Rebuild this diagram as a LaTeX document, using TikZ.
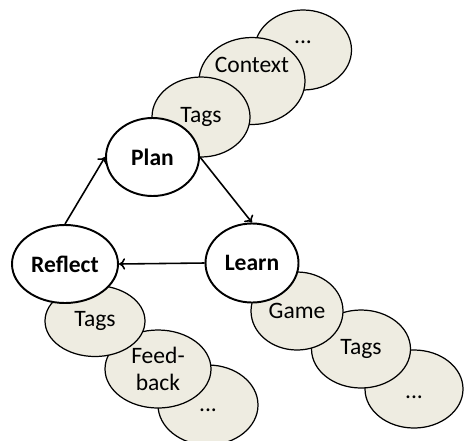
\documentclass[tikz,border=0pt]{standalone}
\usepackage{fontspec}
\setmainfont{Carlito}
\usetikzlibrary{shapes.geometric, arrows.meta}
\definecolor{itemfill}{HTML}{EEECE1}
\begin{document}
\begin{tikzpicture}[
    stage/.style={draw, ellipse, fill=white, line width=1.1pt, inner sep=0pt, font=\fontsize{13.4}{15}\selectfont\bfseries},
    item/.style={draw, ellipse, fill=itemfill, line width=0.7pt, inner sep=0pt, font=\fontsize{13.4}{15.5}\selectfont, align=center},
    link/.style={-{To[length=3.5pt, width=6.5pt]}, line width=0.9pt}
  ]
  \useasboundingbox (0,0) rectangle (9.28,-8.8);

  % Plan items
  \node[item, minimum width=1.94cm, minimum height=1.6cm, label={[yshift=0.16cm, font=\fontsize{13.4}{15}\selectfont]center:...}] (pdots) at (6.06,-1.0) {};
  \node[item, minimum width=2.12cm, minimum height=1.74cm, label={[yshift=0.32cm, font=\fontsize{13.4}{15}\selectfont]center:Context}] (pctx) at (5.04,-1.62) {};
  \node[item, minimum width=1.96cm, minimum height=1.6cm] (ptags) at (4.02,-2.34) {Tags};

  % Learn items
  \node[item, minimum width=1.96cm, minimum height=1.56cm, label={[yshift=-0.16cm, font=\fontsize{13.4}{15}\selectfont]center:...}] (ldots) at (8.28,-7.78) {};
  \node[item, minimum width=1.98cm, minimum height=1.56cm] (ltags) at (7.22,-6.98) {Tags};
  \node[item, minimum width=1.84cm, minimum height=1.56cm] (lgame) at (5.94,-6.22) {Game};

  % Reflect items
  \node[item, minimum width=2.0cm, minimum height=1.6cm, label={[yshift=-0.1cm, font=\fontsize{13.4}{15}\selectfont]center:...}] (rdots) at (4.16,-8.10) {};
  \node[item, minimum width=2.12cm, minimum height=1.56cm] (rfeed) at (3.16,-7.38) {Feed-\\back};
  \node[item, minimum width=2.0cm, minimum height=1.42cm] (rtags) at (1.90,-6.42) {Tags};

  % Cycle
  \node[stage, minimum width=1.86cm, minimum height=1.56cm] (plan) at (3.05,-3.14) {Plan};
  \node[stage, minimum width=1.86cm, minimum height=1.58cm] (learn) at (5.04,-5.26) {Learn};
  \node[stage, minimum width=2.12cm, minimum height=1.56cm] (reflect) at (1.30,-5.28) {Reflect};

  % Arrows
  \draw[link] (reflect.north) -- (plan.west);
  \draw[link] (plan.east) -- (learn.north);
  \draw[link] (learn.west) -- (reflect.east);
\end{tikzpicture}
\end{document}
